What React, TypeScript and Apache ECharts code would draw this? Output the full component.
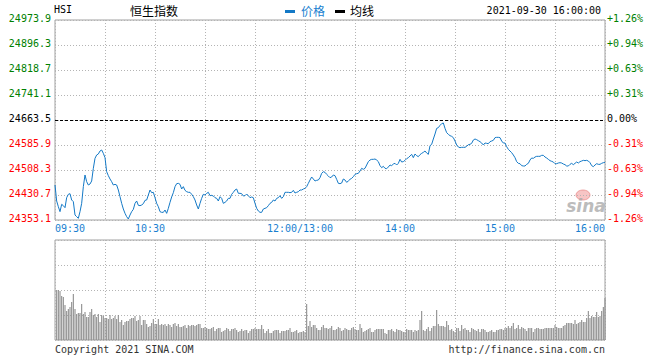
import React, { useEffect, useRef } from 'react';
import * as echarts from 'echarts';

const PREV_CLOSE = 24663.5;
const Y_STEP = 77.6;
const Y_HALF = 310.4;

const titleCode = 'HSI';
const titleName = '恒生指数';
const legendPrice = '价格';
const legendAvg = '均线';
const dateText = '2021-09-30 16:00:00';
const copyrightText = 'Copyright 2021 SINA.COM';
const urlText = 'http://finance.sina.com.cn';

const timeLabels = ['09:30', '10:30', '12:00/13:00', '14:00', '15:00', '16:00'];
const timeLabelMinutes = [0, 60, 150, 210, 270, 330];

// minute-by-minute index level, 09:30 .. 16:00 (lunch break removed)
const prices = [
  24461.7, 24412.1, 24394.5, 24379.0, 24401.7, 24397.6, 24391.4, 24422.4, 24432.8, 24434.8,
  24415.2, 24410.0, 24368.6, 24363.4, 24358.3, 24379.0, 24404.8, 24456.6, 24492.8, 24472.1,
  24461.7, 24464.8, 24474.2, 24513.5, 24544.5, 24554.9, 24558.0, 24567.3, 24570.4, 24560.0,
  24546.6, 24503.1, 24490.7, 24480.4, 24472.1, 24461.7, 24463.8, 24461.7, 24446.2, 24425.5,
  24404.8, 24387.2, 24373.8, 24363.4, 24356.2, 24368.6, 24379.0, 24386.2, 24404.8, 24412.1,
  24398.6, 24397.6, 24399.7, 24403.8, 24414.1, 24415.2, 24430.7, 24446.2, 24437.9, 24439.0,
  24422.4, 24404.8, 24394.5, 24379.0, 24376.9, 24376.9, 24384.1, 24373.8, 24389.3, 24407.9,
  24424.5, 24437.9, 24456.6, 24465.9, 24466.9, 24463.8, 24449.3, 24456.6, 24445.2, 24441.0,
  24439.0, 24439.0, 24432.8, 24425.5, 24415.2, 24399.7, 24387.2, 24404.8, 24420.3, 24432.8,
  24430.7, 24435.9, 24439.0, 24428.6, 24429.6, 24427.6, 24422.4, 24420.3, 24412.1, 24425.5,
  24420.3, 24404.8, 24407.9, 24412.1, 24420.3, 24420.3, 24432.8, 24439.0, 24446.2, 24449.3,
  24435.9, 24435.9, 24434.8, 24427.6, 24428.6, 24433.8, 24428.6, 24422.4, 24424.5, 24422.4,
  24404.8, 24389.3, 24381.0, 24376.9, 24376.9, 24387.2, 24389.3, 24391.4, 24397.6, 24404.8,
  24407.9, 24415.2, 24412.1, 24420.3, 24422.4, 24428.6, 24420.3, 24425.5, 24439.0, 24439.0,
  24439.0, 24437.9, 24439.0, 24445.2, 24436.9, 24439.0, 24441.0, 24446.2, 24446.2, 24449.3,
  24451.4, 24456.6, 24466.9, 24477.2, 24486.6, 24480.4, 24474.2, 24476.2, 24477.2, 24484.5,
  24497.9, 24503.1, 24501.0, 24494.8, 24489.7, 24484.5, 24486.6, 24492.8, 24490.7, 24479.3,
  24466.9, 24465.9, 24467.9, 24480.4, 24477.2, 24470.0, 24474.2, 24479.3, 24482.4, 24487.6,
  24494.8, 24496.9, 24497.9, 24505.2, 24513.5, 24510.4, 24513.5, 24523.8, 24534.2, 24539.3,
  24541.4, 24541.4, 24542.4, 24539.3, 24534.2, 24521.8, 24515.5, 24519.7, 24513.5, 24512.4,
  24517.6, 24523.8, 24521.8, 24526.9, 24529.0, 24523.8, 24529.0, 24541.4, 24533.1, 24534.2,
  24538.3, 24543.5, 24546.6, 24551.7, 24556.9, 24546.6, 24558.0, 24552.8, 24549.7, 24555.9,
  24560.0, 24563.1, 24567.3, 24561.1, 24556.9, 24583.8, 24587.9, 24604.5, 24620.0, 24637.6,
  24639.7, 24646.9, 24652.1, 24654.2, 24637.6, 24624.2, 24619.0, 24614.9, 24612.8, 24608.7,
  24598.3, 24585.9, 24579.7, 24577.6, 24578.7, 24578.7, 24578.7, 24581.8, 24586.9, 24588.0,
  24591.1, 24601.4, 24604.5, 24602.4, 24599.3, 24596.2, 24592.1, 24585.9, 24592.1, 24591.1,
  24590.0, 24596.2, 24598.3, 24600.4, 24608.7, 24609.7, 24609.7, 24608.7, 24598.3, 24592.1,
  24592.1, 24580.7, 24572.4, 24567.3, 24562.1, 24554.9, 24546.6, 24534.2, 24529.0, 24527.9,
  24521.8, 24520.7, 24520.7, 24525.9, 24529.0, 24539.3, 24545.5, 24544.5, 24548.6, 24550.7,
  24550.7, 24550.7, 24553.8, 24553.8, 24548.6, 24545.5, 24541.4, 24537.3, 24535.2, 24533.1,
  24527.9, 24527.9, 24530.0, 24531.0, 24530.0, 24526.9, 24524.8, 24520.7, 24520.7, 24525.9,
  24529.0, 24524.8, 24529.0, 24533.1, 24530.0, 24534.2, 24536.2, 24538.3, 24537.3, 24538.3,
  24536.2, 24531.0, 24521.8, 24518.7, 24523.8, 24527.9, 24525.9, 24525.9, 24529.0, 24531.0,
  24532.1,
];

// per-minute turnover (relative bar heights)
const volumes = [
  50, 50, 49, 44, 43, 35, 29, 31, 33, 38, 46, 31, 26, 27, 27, 36, 26, 28, 23, 23, 28, 31, 25, 26, 23, 26, 18, 25, 24, 22,
  22, 21, 25, 21, 22, 24, 21, 25, 18, 20, 15, 18, 19, 19, 21, 22, 22, 24, 19, 20, 24, 15, 20, 20, 16, 13, 14, 17, 21, 16,
  16, 21, 15, 16, 15, 16, 14, 16, 15, 13, 16, 17, 14, 16, 13, 13, 14, 15, 12, 15, 14, 15, 15, 14, 15, 16, 16, 12, 12, 13,
  12, 11, 11, 12, 13, 9, 11, 12, 12, 8, 9, 10, 12, 11, 9, 11, 11, 12, 10, 8, 9, 11, 9, 10, 10, 7, 9, 11, 11, 12,
  11, 11, 11, 15, 11, 7, 9, 11, 7, 7, 9, 10, 10, 10, 7, 9, 9, 9, 10, 10, 12, 8, 8, 9, 10, 7, 8, 8, 9, 8,
  36, 14, 19, 13, 15, 15, 12, 10, 10, 13, 15, 12, 12, 11, 12, 14, 10, 10, 11, 13, 12, 9, 10, 12, 11, 10, 10, 12, 13, 11,
  10, 10, 16, 12, 8, 9, 10, 11, 12, 8, 8, 10, 11, 11, 11, 11, 11, 7, 6, 10, 10, 11, 9, 8, 11, 10, 10, 9, 8, 8,
  11, 10, 10, 10, 8, 10, 9, 10, 20, 29, 10, 9, 11, 13, 9, 12, 14, 14, 30, 16, 14, 14, 14, 13, 19, 15, 10, 11, 9, 8,
  12, 12, 9, 15, 11, 12, 10, 10, 8, 12, 11, 10, 9, 11, 8, 11, 11, 10, 8, 8, 9, 10, 8, 8, 10, 10, 11, 11, 10, 12,
  12, 14, 12, 14, 17, 11, 12, 15, 11, 13, 12, 11, 9, 12, 12, 12, 8, 11, 12, 12, 11, 11, 11, 12, 12, 12, 12, 12, 12, 15,
  13, 12, 12, 12, 14, 15, 17, 17, 17, 17, 16, 20, 16, 17, 18, 20, 18, 18, 22, 29, 22, 24, 23, 23, 28, 23, 24, 29, 33, 42,
];

const MONO = '"DejaVu Sans Mono", "Liberation Mono", monospace';
const CJK = '"Noto Sans CJK SC", "Noto Sans", sans-serif';
const LINE_BLUE = '#1479c6';
const AXIS_BLUE = '#1a7fd0';
const GREEN = '#008000';
const RED = '#ff0000';
const GRID_DOT = '#b4b4b4';
const BORDER = '#a0a0a0';

export default function App() {
  const ref = useRef<HTMLDivElement>(null);

  useEffect(() => {
    if (!ref.current) return;
    const chart = echarts.init(ref.current, null, { renderer: 'svg' });

    const key = (v: number) => {
      const k = Math.round(v * 10);
      return k > 0 ? 'g' : k < 0 ? 'r' : 'k';
    };
    const lab = (color: string) => ({
      color,
      fontFamily: MONO,
      fontSize: 10,
      padding: [0, 0, 4, 0],
    });
    const yRich = { g: lab(GREEN), r: lab(RED), k: lab('#000') };
    const xLab = (pad: number[]) => ({
      color: AXIS_BLUE,
      fontFamily: MONO,
      fontSize: 10,
      padding: pad,
    });
    const dotted = { show: true, lineStyle: { color: GRID_DOT, type: [1, 2] as any, width: 1 } };

    chart.setOption({
      animation: false,
      backgroundColor: '#fff',
      grid: [
        { left: 55, top: 20, width: 550, height: 200, show: true, borderColor: BORDER, borderWidth: 1, backgroundColor: 'transparent' },
        { left: 55, top: 240, width: 550, height: 100, show: true, borderColor: BORDER, borderWidth: 1, backgroundColor: 'transparent' },
      ],
      xAxis: [
        {
          type: 'value', gridIndex: 0, min: 0, max: 330, interval: 30,
          axisLine: { show: false }, axisTick: { show: false },
          splitLine: dotted,
          axisLabel: {
            margin: 3,
            showMinLabel: true,
            showMaxLabel: true,
            formatter: (v: number) => {
              const i = timeLabelMinutes.indexOf(Math.round(v));
              if (i < 0) return '';
              const k = i === 0 ? 'a' : i === timeLabels.length - 1 ? 'c' : 'b';
              return `{${k}|${timeLabels[i]}}`;
            },
            rich: { a: xLab([0, 0, 0, 30]), b: xLab([0, 10, 0, 0]), c: xLab([0, 30, 0, 0]) },
          },
        },
        {
          type: 'value', gridIndex: 1, min: 0, max: 330, interval: 30,
          axisLine: { show: false }, axisTick: { show: false }, axisLabel: { show: false },
          splitLine: dotted,
        },
      ],
      yAxis: [
        {
          type: 'value', gridIndex: 0, position: 'left', min: -Y_HALF, max: Y_HALF, interval: Y_STEP,
          axisLine: { show: false }, axisTick: { show: false },
          splitLine: dotted,
          axisLabel: {
            margin: 4,
            formatter: (v: number) => `{${key(v)}|${(PREV_CLOSE + v).toFixed(1)}}`,
            rich: yRich,
          },
        },
        {
          type: 'value', gridIndex: 0, position: 'right', min: -Y_HALF, max: Y_HALF, interval: Y_STEP,
          axisLine: { show: false }, axisTick: { show: false }, splitLine: { show: false },
          axisLabel: {
            margin: 2,
            formatter: (v: number) => {
              const p = (v / PREV_CLOSE) * 100;
              const s = Math.abs(p).toFixed(2);
              const k = key(v);
              const sign = k === 'g' ? '+' : k === 'r' ? '-' : '';
              return `{${k}|${sign}${s}%}`;
            },
            rich: yRich,
          },
        },
        {
          type: 'value', gridIndex: 1, min: 0, max: 100, interval: 25,
          axisLine: { show: false }, axisTick: { show: false }, axisLabel: { show: false },
          splitLine: dotted,
        },
      ],
      series: [
        {
          type: 'line',
          xAxisIndex: 0,
          yAxisIndex: 0,
          data: prices.map((p, i) => [i, +(p - PREV_CLOSE).toFixed(1)]),
          showSymbol: false,
          symbol: 'none',
          lineStyle: { color: LINE_BLUE, width: 1 },
          itemStyle: { color: LINE_BLUE },
          markLine: {
            silent: true,
            symbol: ['none', 'none'],
            label: { show: false },
            lineStyle: { color: '#000', type: [3, 2], width: 1 },
            data: [{ yAxis: 0 }],
          },
          z: 3,
        },
        {
          type: 'bar',
          xAxisIndex: 1,
          yAxisIndex: 2,
          data: volumes.map((v, i) => [i + 1, v]),
          barWidth: 1.1,
          itemStyle: { color: '#8e8e8e' },
        },
      ],
      graphic: [
        { type: 'text', left: 54, top: 4, style: { text: titleCode, fill: '#000', font: `10px ${MONO}` } },
        { type: 'text', x: 154, y: 10, style: { text: titleName, fill: '#000', font: `12px ${CJK}`, align: 'center', verticalAlign: 'middle' } },
        { type: 'rect', shape: { x: 285, y: 10, width: 10, height: 3 }, style: { fill: LINE_BLUE } },
        { type: 'text', x: 301, y: 10, style: { text: legendPrice, fill: AXIS_BLUE, font: `12px ${CJK}`, verticalAlign: 'middle' } },
        { type: 'rect', shape: { x: 335, y: 10, width: 10, height: 3 }, style: { fill: '#000' } },
        { type: 'text', x: 350, y: 10, style: { text: legendAvg, fill: '#000', font: `12px ${CJK}`, verticalAlign: 'middle' } },
        { type: 'text', x: 601, y: 10, style: { text: dateText, fill: '#000', font: `10px ${MONO}`, align: 'right', verticalAlign: 'middle' } },
        { type: 'text', x: 55, y: 349, style: { text: copyrightText, fill: '#333', font: `10px ${MONO}`, verticalAlign: 'middle' } },
        { type: 'text', x: 605, y: 349, style: { text: urlText, fill: '#333', font: `10px ${MONO}`, align: 'right', verticalAlign: 'middle' } },
        { type: 'ellipse', shape: { cx: 583, cy: 195, rx: 7, ry: 5 }, style: { fill: 'rgba(240,150,150,0.55)', stroke: 'rgba(230,120,120,0.6)', lineWidth: 1 } },
        { type: 'text', x: 586, y: 206, style: { text: 'sina', fill: 'rgba(170,170,170,0.8)', font: `italic bold 17px "DejaVu Sans", sans-serif`, align: 'center', verticalAlign: 'middle' } },
      ],
    });

    return () => chart.dispose();
  }, []);

  return (
    <div
      ref={ref}
      style={{ position: 'fixed', left: 0, top: 0, width: 660, height: 360, background: '#fff' }}
    />
  );
}
